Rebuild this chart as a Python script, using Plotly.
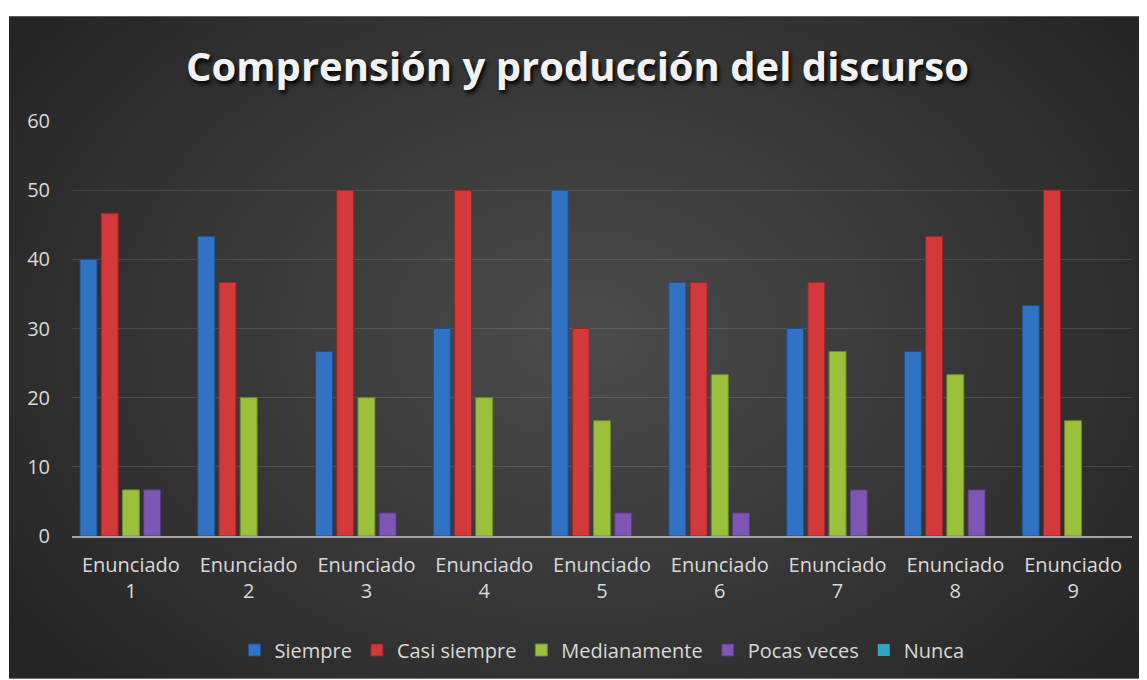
import base64
import math
import struct
import zlib

import plotly.graph_objects as go

categorias = ["Enunciado<br>1", "Enunciado<br>2", "Enunciado<br>3", "Enunciado<br>4", "Enunciado<br>5",
              "Enunciado<br>6", "Enunciado<br>7", "Enunciado<br>8", "Enunciado<br>9"]

siempre = [40, 43.33, 26.67, 30, 50, 36.67, 30, 26.67, 33.33]
casi_siempre = [46.67, 36.67, 50, 50, 30, 36.67, 36.67, 43.33, 50]
medianamente = [6.67, 20, 20, 20, 16.67, 23.33, 26.67, 23.33, 16.67]
pocas_veces = [6.67, 0, 3.33, 0, 3.33, 3.33, 6.67, 6.67, 0]
nunca = [0, 0, 0, 0, 0, 0, 0, 0, 0]

series = [
    ("Siempre", siempre, "#3072c4", "#1f4f8c"),
    ("Casi siempre", casi_siempre, "#d3393b", "#962527"),
    ("Medianamente", medianamente, "#9bc13c", "#6c8a28"),
    ("Pocas veces", pocas_veces, "#7d57b3", "#56397f"),
    ("Nunca", nunca, "#2ca6c6", "#1d7890"),
]

# la página añade 8px de margen al cuerpo
W, H = 1139, 672
ML, MR, MT, MB = 64, 15, 113, 143
PW, PH = W - ML - MR, H - MT - MB


def px_x(p):
    return (p - ML) / PW


def px_y(p):
    return (H - MB - p) / PH


def fondo_png(w, h):
    """Degradado radial gris oscuro como PNG en data URI"""
    cx, cy = 0.505, 0.48
    rx, ry = 0.5, 0.63
    filas = b""
    for j in range(h):
        fila = bytearray([0])
        for i in range(w):
            dx = ((i + 0.5) / w - cx) / rx
            dy = ((j + 0.5) / h - cy) / ry
            d = min(math.hypot(dx, dy), 1.25) / 1.25
            fila.append(int(0x4c - (0x4c - 0x25) * d))
        filas += bytes(fila)

    def chunk(tipo, datos):
        c = tipo + datos
        return struct.pack(">I", len(datos)) + c + struct.pack(">I", zlib.crc32(c) & 0xffffffff)

    png = b"\x89PNG\r\n\x1a\n"
    png += chunk(b"IHDR", struct.pack(">IIBBBBB", w, h, 8, 0, 0, 0, 0))
    png += chunk(b"IDAT", zlib.compress(filas, 9))
    png += chunk(b"IEND", b"")
    return "data:image/png;base64," + base64.b64encode(png).decode()


fig = go.Figure()
for nombre, valores, color, borde in series:
    # sin borde en las barras de valor cero
    anchos = [1 if v > 0 else 0 for v in valores]
    fig.add_trace(go.Bar(x=categorias, y=valores, name=nombre,
                         marker=dict(color=color, line=dict(width=anchos, color=borde))))

x0, y0 = 1, 8
fig.add_layout_image(dict(source=fondo_png(285, 166), xref="paper", yref="paper",
                          x=px_x(x0), y=px_y(y0), sizex=px_x(W) - px_x(x0), sizey=px_y(y0) - px_y(H),
                          xanchor="left", yanchor="top", sizing="stretch", layer="below"))

fig.update_layout(
    width=W, height=H,
    margin=dict(l=ML, r=MR, t=MT, b=MB),
    paper_bgcolor="white",
    plot_bgcolor="rgba(0,0,0,0)",
    barmode="group",
    bargap=0.1,
    bargroupgap=0.2,
    font=dict(family="Open Sans", color="#d9d9d9", size=20),
    title=dict(text="<b>Comprensión y producción del discurso</b>",
               x=0.5, xanchor="center", y=1 - (67 - 8) / H, yanchor="middle",
               font=dict(family="Open Sans", size=40, color="#f2f2f2",
                         shadow="2px 3px 4px #000000")),
    legend=dict(orientation="h", x=0.5, xanchor="center", y=px_y(650 - 8), yanchor="middle",
                font=dict(size=20, color="#d9d9d9"), bgcolor="rgba(0,0,0,0)"),
    xaxis=dict(showline=True, linecolor="#a6a6a6", linewidth=2, showgrid=False,
               ticks="", ticklabelstandoff=10, tickfont=dict(size=20, color="#d9d9d9")),
    yaxis=dict(range=[0, 60], dtick=10, showgrid=True, gridcolor="rgba(255,255,255,0.12)",
               gridwidth=1, zeroline=False, showline=False, ticks="",
               ticklabelstandoff=21, tickfont=dict(size=20, color="#d9d9d9")),
)

fig.write_html("out.html")
